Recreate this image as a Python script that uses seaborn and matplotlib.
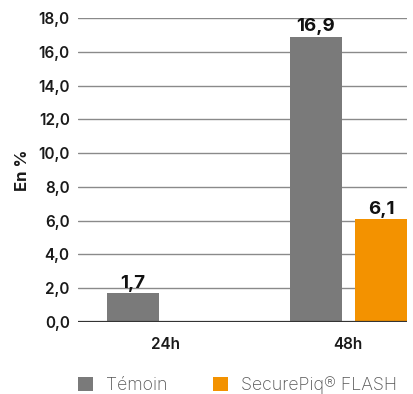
import matplotlib
matplotlib.use("Agg")
import matplotlib.pyplot as plt
import seaborn as sns
import pandas as pd
import numpy as np
from matplotlib.patches import Patch

categories = ["24h", "48h"]
series = ["Témoin", "SecurePiq® FLASH"]
temoin = [1.7, 16.9]
securepiq = [np.nan, 6.1]
yticks = [0, 2, 4, 6, 8, 10, 12, 14, 16, 18]
colors = ["#7a7a7a", "#f39200"]

df = pd.DataFrame({
    "cat": categories * 2,
    "serie": [series[0]] * 2 + [series[1]] * 2,
    "val": temoin + securepiq,
})

sns.set_theme(style="white")
plt.rcParams["font.family"] = ["Inter", "DejaVu Sans"]

fig = plt.figure(figsize=(4.13, 3.94), dpi=100)
ax = fig.add_axes([78/413, 72/394, (407-78)/413, (322-18)/394])

sns.barplot(data=df, x="cat", y="val", hue="serie", palette=colors,
            width=0.71, gap=0.2, ax=ax, legend=False, saturation=1,
            order=categories, hue_order=series, linewidth=0)

for s in ax.spines.values():
    s.set_visible(False)
ax.set_ylim(0, 18)
ax.set_xlim(-0.475, 1.32)
ax.set_yticks(yticks)
ax.set_yticklabels([f"{v:.1f}".replace(".", ",") for v in yticks])
ax.yaxis.grid(True, color="#8a8a8a", linewidth=1)
ax.set_axisbelow(True)
ax.axhline(0, color="#333333", linewidth=1.6, zorder=5)
ax.tick_params(axis="y", length=0, pad=6, labelsize=11, labelcolor="#1a1a1a")
ax.tick_params(axis="x", length=0, pad=11, labelsize=11, labelcolor="#1a1a1a")
for t in ax.get_yticklabels() + ax.get_xticklabels():
    t.set_fontweight("semibold")
ax.set_xlabel("")
ax.set_ylabel("En %", fontsize=12, fontweight="bold", color="#1a1a1a", labelpad=6)

for p in ax.patches:
    h = p.get_height()
    if h is None or np.isnan(h) or h <= 0:
        continue
    ax.annotate(f"{h:.1f}".replace(".", ","), (p.get_x() + p.get_width() / 2, h),
                xytext=(0, 1), textcoords="offset points", ha="center", va="bottom",
                fontsize=13.5, fontweight="bold", color="#111111")

handles = [Patch(facecolor=c, edgecolor="none") for c in colors]
fig.legend(handles, series, loc="lower center", bbox_to_anchor=(0.575, -0.04), ncol=2,
           frameon=False, labelcolor="#555555", handlelength=0.85,
           handleheight=0.85, columnspacing=2.6, handletextpad=0.7,
           prop={"family": ["Inter", "DejaVu Sans"], "weight": "light", "size": 12.8})

fig.savefig("out.png", dpi=100)
